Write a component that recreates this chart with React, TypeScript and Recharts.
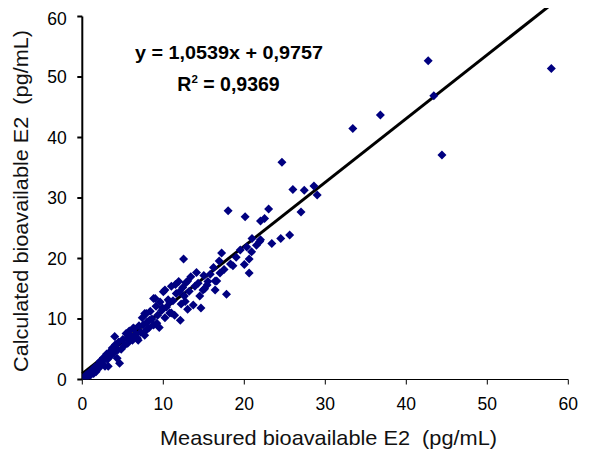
import { ScatterChart, Scatter, XAxis, YAxis, ReferenceLine } from 'recharts'

// measured vs calculated bioavailable E2 (pg/mL)
const measured = [
  0.3, 0.5, 0.7, 0.9, 1.0, 1.2, 1.4, 1.5, 1.7, 1.9, 2.0, 2.2, 2.4, 2.6, 2.8, 3.0, 3.1, 3.2, 3.4, 3.5,
  3.7, 3.9, 4.0, 4.1, 4.3, 4.5, 4.6, 4.8, 5.0, 5.2, 5.4, 5.6, 5.8, 6.0, 6.2, 6.4, 6.6, 6.8, 7.0, 7.2,
  7.4, 7.5, 7.7, 7.9, 8.0, 8.2, 8.4, 8.6, 8.8, 9.0, 9.1, 9.3, 9.5, 9.6, 9.8, 10.0, 10.2, 10.2, 10.4, 10.6,
  10.8, 11.0, 11.0, 11.2, 11.4, 11.6, 11.9, 12.1, 12.2, 12.4, 12.5, 12.6, 12.8, 13.0, 13.2, 13.4, 13.7, 13.9, 14.1, 14.3,
  14.5, 14.65, 14.9, 15.0, 15.4, 15.8, 16.2, 16.4, 16.6, 16.9, 17.0, 17.2, 17.5, 17.8, 18.0, 18.3, 18.6, 19.0, 19.5, 20.0,
  20.1, 20.3, 20.6, 20.6, 20.9, 20.95, 21.5, 21.9, 22.0, 22.0, 22.5, 23.0, 23.4, 24.5, 24.65, 25.6, 26.0, 27.0, 27.4, 28.6,
  29.0, 33.4, 36.8, 42.7, 43.4, 44.4, 57.9,
  6.9, 6.3, 9.2, 7.7, 8.8, 12.7, 15.1, 16.4, 15.5, 13.0, 11.5, 12.0, 10.8, 9.9, 8.3, 7.9, 5.5, 4.4, 3.6, 2.5,
  1.6, 0.8,
]
const calculated = [
  0.4, 0.8, 0.5, 1.2, 0.7, 1.5, 1.0, 2.0, 1.3, 2.4, 1.8, 3.0, 2.5, 3.6, 2.2, 4.2, 3.3, 2.2, 4.6, 3.9,
  5.2, 4.4, 7.1, 5.8, 3.5, 6.2, 2.7, 5.0, 6.6, 5.6, 7.6, 6.0, 8.0, 7.2, 6.5, 8.4, 7.5, 6.8, 8.9, 7.8,
  10.2, 9.0, 7.3, 10.9, 9.5, 8.5, 11.3, 10.0, 9.0, 13.4, 12.1, 10.6, 8.6, 12.8, 11.4, 14.5, 10.2, 14.8, 12.0, 13.2,
  11.0, 15.4, 11.0, 13.0, 10.6, 14.2, 16.2, 9.8, 12.5, 15.2, 19.9, 13.8, 16.0, 11.6, 14.6, 17.0, 12.3, 15.4, 17.7, 15.9,
  13.8, 11.8, 14.8, 17.2, 15.6, 17.4, 18.5, 14.8, 16.3, 19.6, 17.6, 20.9, 18.2, 14.1, 27.9, 19.1, 18.8, 20.2, 21.4, 19.0,
  26.9, 21.9, 19.9, 17.6, 21.1, 23.3, 22.2, 22.8, 26.2, 23.1, 26.6, 28.2, 22.5, 23.3, 35.9, 23.9, 31.4, 27.7, 31.3, 32.0,
  30.5, 41.5, 43.7, 52.7, 46.9, 37.1, 51.4,
  6.5, 8.5, 9.3, 10.9, 13.4, 12.9, 15.0, 16.3, 16.2, 16.3, 15.7, 14.5, 12.8, 11.8, 9.8, 8.2, 6.8, 4.9, 4.1, 3.0,
  1.8, 1.0,
]
const axisTicks = [0, 10, 20, 30, 40, 50, 60]
// trendline ends: y = 1,0539x + 0,9757
const trendX = [0, 57.9]
const trendY = [0.98, 62.0]

const points = measured.map((x, i) => ({ x, y: calculated[i] }))

const font = 'Arial, "Liberation Sans", sans-serif'

function Diamond(props: any) {
  const { cx, cy } = props
  const r = 4.5
  return <polygon points={`${cx},${cy - r} ${cx + r},${cy} ${cx},${cy + r} ${cx - r},${cy}`} fill="#000080" />
}

export default function App() {
  return (
    <ScatterChart width={583} height={448} margin={{ top: 8.5, right: 22.7, bottom: 0, left: 0 }}>
      <XAxis
        type="number" dataKey="x" domain={[0, 60]} ticks={axisTicks}
        allowDataOverflow height={76.5}
        stroke="#000" tickSize={5} tickMargin={13}
        tick={{ fill: '#000', fontSize: 17.5, fontFamily: font }}
      />
      <YAxis
        type="number" dataKey="y" domain={[0, 60]} ticks={axisTicks}
        allowDataOverflow width={74.3}
        stroke="#000" strokeWidth={2} tickSize={5} tickMargin={10.5}
        tick={{ fill: '#000', fontSize: 17.5, fontFamily: font }}
      />
      <Scatter data={points} shape={<Diamond />} isAnimationActive={false} />
      <ReferenceLine
        segment={[{ x: trendX[0], y: trendY[0] }, { x: trendX[1], y: trendY[1] }]}
        stroke="#000" strokeWidth={3} ifOverflow="visible"
      />
      <text x={221} y={51.3} textAnchor="middle" fontFamily={font} fontSize={18.5} fontWeight="bold" textLength={188} lengthAdjust="spacingAndGlyphs">
        y = 1,0539x + 0,9757
      </text>
      <text x={220.5} y={82.7} textAnchor="middle" fontFamily={font} fontSize={19.5} fontWeight="bold">
        R<tspan dy={-8} fontSize={11.5}>2</tspan><tspan dy={8}> = 0,9369</tspan>
      </text>
      <text x={320.5} y={437} textAnchor="middle" fontFamily={font} fontSize={21} fill="#111" textLength={337} lengthAdjust="spacingAndGlyphs">
        {'Measured bioavailable E2\u00a0 (pg/mL)'}
      </text>
      <text x={20.3} y={193} transform="rotate(-90 20.3 193)" textAnchor="middle" fontFamily={font} fontSize={21} fill="#111" textLength={342} lengthAdjust="spacingAndGlyphs">
        {'Calculated bioavailable E2\u00a0 (pg/mL)'}
      </text>
    </ScatterChart>
  )
}
